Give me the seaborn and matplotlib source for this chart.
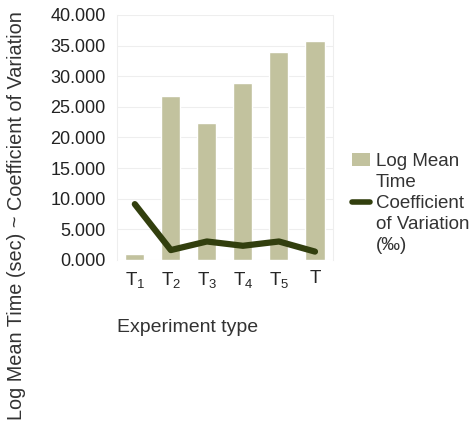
import seaborn as sns
import matplotlib.pyplot as plt
import matplotlib.ticker as mticker
from matplotlib.patches import Patch
from matplotlib.lines import Line2D
import numpy as np
import pandas as pd

experiments = ["T$_{1}$", "T$_{2}$", "T$_{3}$", "T$_{4}$", "T$_{5}$", "T"]
log_mean_time = [1.0, 26.8, 22.3, 28.8, 33.9, 35.8]
coef_variation = [9.1, 1.6, 3.0, 2.3, 3.0, 1.35]

bar_color = "#c2c29e"
line_color = "#323f0e"

sns.set_style("white")
plt.rcParams["font.family"] = ["Liberation Sans", "DejaVu Sans"]
plt.rcParams["mathtext.fontset"] = "custom"
plt.rcParams["mathtext.rm"] = "Liberation Sans"
plt.rcParams["mathtext.it"] = "Liberation Sans"
plt.rcParams["mathtext.default"] = "rm"

df = pd.DataFrame({"pos": np.arange(len(experiments)),
                   "exp": experiments,
                   "time": log_mean_time,
                   "cv": coef_variation})

fig = plt.figure(figsize=(4.71, 4.26), dpi=100)
ax = fig.add_axes([0.248, 0.39, 0.459, 0.575])

sns.barplot(data=df, x="pos", y="time", color=bar_color, width=0.53,
            saturation=1, ax=ax, zorder=2)
sns.lineplot(data=df, x="pos", y="cv", color=line_color, linewidth=4.5,
             ax=ax, zorder=3)

ax.set_xlim(-0.5, len(experiments) - 0.5)
ax.set_ylim(0, 40)
ax.yaxis.set_major_locator(mticker.MultipleLocator(5))
ax.yaxis.set_major_formatter(mticker.FuncFormatter(lambda v, p: f"{v:.3f}"))
ax.set_xticks(df["pos"])
ax.set_xticklabels(experiments, fontsize=13.5)
ax.set_xticks(np.arange(len(experiments) + 1) - 0.5, minor=True)
ax.tick_params(axis="x", which="major", length=0, pad=7)
ax.tick_params(axis="x", which="minor", length=7, color="#dddddd", width=0.8)
ax.tick_params(axis="y", length=5, color="#dddddd", width=0.8,
               labelsize=13, labelcolor="#222222", pad=3)
ax.grid(axis="y", color="#eeeeee", linewidth=0.8, zorder=0)
ax.set_axisbelow(True)
for side in ["left", "right"]:
    ax.spines[side].set_color("#eeeeee")
    ax.spines[side].set_linewidth(0.8)
ax.spines["top"].set_visible(False)
ax.spines["bottom"].set_visible(False)
ax.set_xlabel("")
ax.set_ylabel("")

fig.text(0.036, 0.495, "Log Mean Time (sec) ~ Coefficient of Variation",
         rotation=90, ha="center", va="center", fontsize=14.3, color="#333333")
fig.text(0.249, 0.232, "Experiment type", ha="left", va="center",
         fontsize=14, color="#333333")

blank = Patch(facecolor="none", edgecolor="none")
handles = [Patch(facecolor=bar_color, edgecolor="none"), blank,
           Line2D([0], [0], color=line_color, linewidth=4), blank, blank]
labels = ["Log Mean", "Time", "Coefficient", "of Variation", "(‰)"]
leg = fig.legend(handles, labels, loc="upper left",
                 bbox_to_anchor=(0.748, 0.64), frameon=False, fontsize=13.5,
                 handlelength=0.95, handleheight=0.7, handletextpad=0.3,
                 labelspacing=0.2, borderaxespad=0, borderpad=0)
for t in leg.get_texts():
    t.set_color("#333333")

plt.savefig("out.png", dpi=100)
